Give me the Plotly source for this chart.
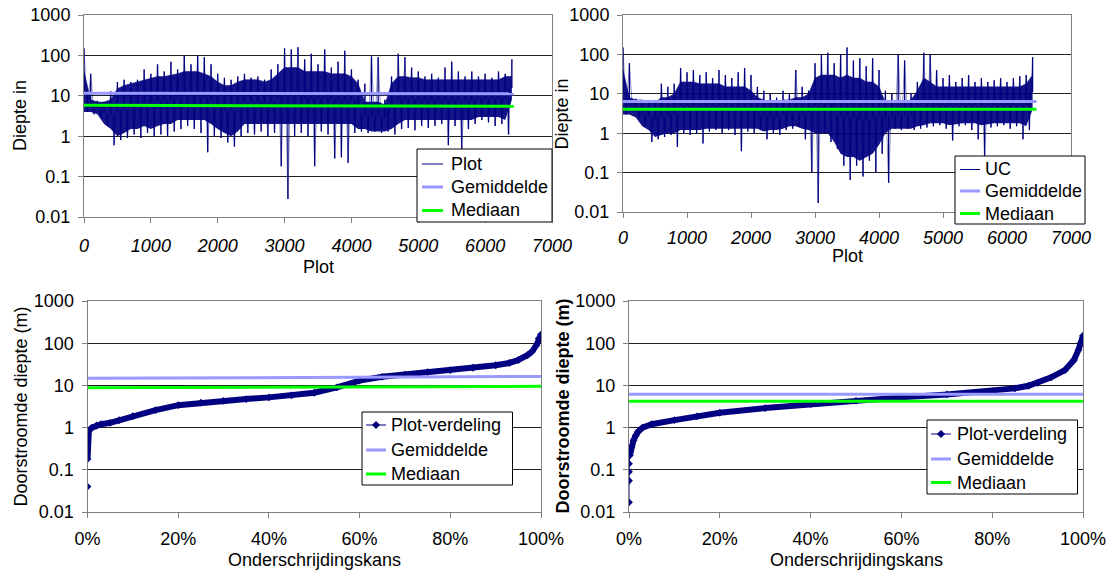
import plotly.graph_objects as go

W, H = 1110, 573
FONT = "Liberation Sans, Arial, sans-serif"
NAVY = "#000080"
MEAN_C = "#9999FF"
MED_C = "#00FF00"
GRID_C = "#202020"
AXIS_C = "#808080"

# ---------------- data ----------------
# top panels: sample number (every 50th plot, alternating upper/lower readings)
series_x = list(range(0, 6401, 50))
plot_depth = [
    150, 4, 35, 3.5, 7.5, 3, 7, 1.8, 13, 0.6,
    22, 0.8, 25, 0.9, 22, 1.1, 25, 0.9, 45, 1.2,
    35, 1.0, 60, 1.1, 40, 1.0, 70, 1.3, 45, 1.5,
    100, 1.8, 60, 1.5, 100, 1.2, 90, 0.4, 60, 1.0,
    35, 0.9, 28, 0.7, 25, 0.55, 30, 1.0, 35, 1.2,
    28, 1.1, 30, 1.3, 25, 1.0, 45, 1.2, 60, 0.18,
    150, 0.028, 140, 1.0, 160, 1.2, 80, 1.0, 110, 0.18,
    60, 1.3, 140, 1.1, 50, 0.28, 70, 0.3, 130, 0.22,
    45, 1.2, 25, 1.3, 20, 1.2, 95, 1.3, 90, 1.2,
    8, 1.3, 30, 1.1, 110, 1.5, 90, 1.6, 50, 1.4,
    40, 1.8, 30, 1.6, 35, 1.8, 28, 2.0, 50, 0.6,
    70, 1.8, 40, 0.45, 30, 1.5, 40, 2.0, 30, 2.5,
    35, 2.2, 28, 1.8, 40, 2.0, 35, 1.1, 80,
]
uc_depth = [
    150, 3, 60, 3.5, 7.5, 2.5, 7, 1.5, 6.5, 0.6,
    6, 0.7, 18, 0.8, 15, 0.9, 18, 0.45, 45, 1.0,
    35, 0.9, 40, 1.0, 30, 0.55, 35, 1.1, 25, 1.2,
    40, 1.0, 30, 1.2, 25, 0.9, 35, 0.35, 45, 1.1,
    30, 1.0, 15, 1.2, 12, 0.7, 10, 1.0, 8, 0.9,
    12, 1.2, 10, 1.3, 40, 1.5, 15, 0.7, 12, 0.1,
    60, 0.017, 100, 1.0, 110, 0.6, 60, 0.4, 100, 0.15,
    150, 0.065, 70, 0.15, 80, 0.08, 50, 0.2, 80, 0.1,
    40, 0.3, 12, 0.055, 10, 1.3, 100, 1.2, 70, 1.3,
    10, 1.2, 20, 1.3, 110, 1.4, 100, 1.5, 40, 1.6,
    25, 1.3, 30, 0.65, 20, 1.5, 25, 1.6, 30, 1.2,
    20, 0.7, 25, 0.25, 20, 1.4, 22, 1.5, 25, 1.6,
    20, 1.3, 25, 1.5, 28, 0.7, 30, 1.2, 85,
]
# dense core of the scatter (typical upper / lower readings per 100 plots)
band_x = list(range(0, 6401, 100))
plot_band_hi = [
    40, 8, 7, 7, 8, 15, 18, 20, 22, 25,
    28, 30, 30, 32, 35, 40, 40, 40, 35, 30,
    22, 18, 18, 22, 25, 25, 25, 22, 25, 35,
    50, 50, 50, 40, 40, 40, 40, 35, 35, 35,
    30, 20, 7, 7, 7, 6, 20, 30, 30, 28,
    28, 25, 25, 25, 25, 25, 25, 25, 25, 25,
    25, 25, 25, 30, 30,
]
plot_band_lo = [
    4, 4, 3.5, 2, 1.5, 1.0, 1.2, 1.5, 1.5, 1.8,
    1.5, 1.8, 2, 2, 2.5, 2.5, 2.5, 2.5, 2.5, 2,
    1.5, 1.2, 1.0, 1.3, 2, 2, 2, 2, 2, 2,
    2, 2, 2, 2, 2, 2, 2, 2, 2, 2,
    2, 1.5, 1.5, 1.3, 1.3, 1.3, 1.5, 2, 2.5, 2.5,
    2.5, 2.5, 2.5, 2.5, 2.5, 2.5, 2.5, 2.5, 2.5, 3,
    3, 3, 3, 2.5, 8,
]
uc_band_hi = [
    40, 8, 7, 7, 6, 6, 8, 8, 10, 20,
    20, 20, 18, 18, 18, 18, 15, 15, 15, 15,
    12, 8, 7, 6, 6, 7, 7, 8, 8, 10,
    25, 30, 30, 30, 25, 30, 25, 25, 20, 20,
    15, 6, 6, 6, 6, 7, 12, 25, 20, 15,
    15, 15, 15, 15, 15, 15, 15, 15, 15, 15,
    15, 15, 15, 18, 30,
]
uc_band_lo = [
    3, 3, 2.5, 1.5, 1.2, 0.8, 0.9, 1.0, 1.0, 1.2,
    1.2, 1.2, 1.2, 1.3, 1.3, 1.3, 1.3, 1.3, 1.3, 1.3,
    1.3, 1.3, 1.1, 1.2, 1.2, 1.3, 1.5, 1.5, 1.3, 1.2,
    1.0, 1.0, 1.0, 0.6, 0.3, 0.25, 0.25, 0.2, 0.25, 0.3,
    0.5, 1.0, 1.3, 1.3, 1.3, 1.3, 1.5, 1.6, 1.8, 1.8,
    1.8, 1.6, 1.7, 1.8, 1.8, 1.8, 1.6, 1.7, 1.8, 1.8,
    1.8, 1.8, 1.8, 1.5, 4,
]
top_left_line_x = [0, 6430]
top_left_mean = [11.5, 11.2]
top_left_median = [5.8, 5.5]
top_right_line_x = [0, 6460]
top_right_mean = [6.4, 6.4]
top_right_median = [4.05, 4.05]

# bottom panels: exceedance distribution (fraction, depth)
plot_dist_p = [0, 0, 0, 0, 0, 0.003, 0.01, 0.02, 0.03, 0.05, 0.07, 0.10, 0.15,
               0.20, 0.25, 0.30, 0.35, 0.40, 0.45, 0.50, 0.55, 0.60, 0.65, 0.70,
               0.75, 0.80, 0.85, 0.90, 0.93, 0.95, 0.97, 0.98, 0.99, 0.995, 1.0]
plot_dist_v = [0.04, 0.18, 0.3, 0.5, 0.7, 0.85, 1.0, 1.12, 1.2, 1.3, 1.5, 1.88, 2.6,
               3.4, 3.9, 4.3, 4.75, 5.2, 5.8, 6.7, 9.0, 13, 16, 18,
               20.7, 23, 26.2, 30, 34, 40, 52, 63, 90, 130, 160]
uc_dist_p = [0, 0, 0, 0, 0.002, 0.005, 0.01, 0.015, 0.02, 0.03, 0.05, 0.10, 0.15,
             0.20, 0.30, 0.40, 0.50, 0.60, 0.70, 0.80, 0.85, 0.88, 0.90, 0.93,
             0.96, 0.98, 0.99, 0.995, 1.0]
uc_dist_v = [0.017, 0.055, 0.09, 0.14, 0.22, 0.35, 0.5, 0.65, 0.8, 1.0, 1.2, 1.5, 1.85,
             2.25, 2.9, 3.6, 4.3, 5.2, 6.1, 7.3, 8.5, 9.8, 11.5, 15.5,
             23, 40, 69, 100, 150]
bottom_line_x = [0, 1.0]
bottom_left_mean = [14.7, 16.3]
bottom_left_median = [8.8, 9.5]
bottom_right_mean = [6.2, 6.2]
bottom_right_median = [4.2, 4.2]

y_tickvals = [0.01, 0.1, 1, 10, 100, 1000]
y_ticktext = ["0.01", "0.1", "1", "10", "100", "1000"]
x_top_ticks = [0, 1000, 2000, 3000, 4000, 5000, 6000, 7000]
x_bot_ticks = [0, 0.2, 0.4, 0.6, 0.8, 1.0]

legend_top_left = ["Plot", "Gemiddelde", "Mediaan"]
legend_top_right = ["UC", "Gemiddelde", "Mediaan"]
legend_bottom = ["Plot-verdeling", "Gemiddelde", "Mediaan"]

# ---------------- figure ----------------
fig = go.Figure()

def spikes(xs, vals, b_lo, b_hi):
    # each reading drawn as a vertical stroke from the dense core out to its value
    sx, sy = [], []
    for x, v in zip(xs, vals):
        j = min(int(round(x / 100.0)), len(b_lo) - 1)
        core = (b_lo[j] * b_hi[j]) ** 0.5
        sx += [x, x, None]
        sy += [core, v, None]
    return sx, sy

def add_top(xa, ya, vals, b_lo, b_hi, lx, mean, med):
    fig.add_trace(go.Scatter(x=band_x, y=b_lo, mode="lines", line=dict(color=NAVY, width=0),
                             xaxis=xa, yaxis=ya, hoverinfo="skip"))
    fig.add_trace(go.Scatter(x=band_x, y=b_hi, mode="lines", line=dict(color=NAVY, width=0.5),
                             fill="tonexty", fillcolor="rgba(0,0,128,0.92)",
                             xaxis=xa, yaxis=ya, hoverinfo="skip"))
    fig.add_trace(go.Scatter(x=series_x, y=vals, mode="lines",
                             line=dict(color=NAVY, width=0.6), opacity=0.7,
                             xaxis=xa, yaxis=ya))
    sx, sy = spikes(series_x, vals, b_lo, b_hi)
    fig.add_trace(go.Scatter(x=sx, y=sy, mode="lines", connectgaps=False,
                             line=dict(color=NAVY, width=1.3), xaxis=xa, yaxis=ya,
                             hoverinfo="skip"))
    fig.add_trace(go.Scatter(x=lx, y=mean, mode="lines",
                             line=dict(color=MEAN_C, width=3), xaxis=xa, yaxis=ya))
    fig.add_trace(go.Scatter(x=lx, y=med, mode="lines",
                             line=dict(color=MED_C, width=3), xaxis=xa, yaxis=ya))

def add_bottom(xa, ya, p, v, mean, med):
    thick_p = [pp for pp, vv in zip(p, v) if vv > 0.15]
    thick_v = [vv for vv in v if vv > 0.15]
    fig.add_trace(go.Scatter(x=thick_p, y=thick_v, mode="lines",
                             line=dict(color=NAVY, width=6), xaxis=xa, yaxis=ya,
                             hoverinfo="skip"))
    fig.add_trace(go.Scatter(x=p, y=v, mode="lines+markers",
                             line=dict(color=NAVY, width=1),
                             marker=dict(symbol="diamond", size=6, color=NAVY),
                             xaxis=xa, yaxis=ya))
    fig.add_trace(go.Scatter(x=bottom_line_x, y=mean, mode="lines",
                             line=dict(color=MEAN_C, width=3), xaxis=xa, yaxis=ya))
    fig.add_trace(go.Scatter(x=bottom_line_x, y=med, mode="lines",
                             line=dict(color=MED_C, width=3), xaxis=xa, yaxis=ya))

add_top("x", "y", plot_depth, plot_band_lo, plot_band_hi, top_left_line_x, top_left_mean, top_left_median)
add_top("x2", "y2", uc_depth, uc_band_lo, uc_band_hi, top_right_line_x, top_right_mean, top_right_median)
add_bottom("x3", "y3", plot_dist_p, plot_dist_v, bottom_left_mean, bottom_left_median)
add_bottom("x4", "y4", uc_dist_p, uc_dist_v, bottom_right_mean, bottom_right_median)

def fx(p):
    return p / W

def fy(p):
    return 1 - p / H

tickfont = dict(family=FONT, size=18, color="black")
itfont = dict(family=FONT, size=18, color="black", style="italic")

def yaxis(dom, anchor):
    return dict(type="log", range=[-2, 3], domain=dom, anchor=anchor,
                tickvals=y_tickvals, ticktext=y_ticktext, tickfont=tickfont,
                showgrid=True, gridcolor=GRID_C, gridwidth=1,
                showline=True, linecolor=AXIS_C, linewidth=1, mirror=True,
                ticks="outside", ticklen=5, tickcolor=AXIS_C, zeroline=False,
                ticklabelstandoff=4, automargin=False)

def xaxis(dom, anchor, rng, tv, font, fmt=None, standoff=8):
    d = dict(range=rng, domain=dom, anchor=anchor, tickvals=tv, tickfont=font,
             showgrid=False, showline=True, linecolor=AXIS_C, linewidth=1, mirror=True,
             ticks="outside", ticklen=5, tickcolor=AXIS_C, zeroline=False,
             ticklabelstandoff=standoff, automargin=False)
    if fmt:
        d["tickformat"] = fmt
    return d

TL = (84, 552, 15, 217)
TR = (623, 1071, 15, 212)
BL = (87.5, 541, 301, 512)
BR = (629, 1083, 301, 512)

def dom(b):
    return [fx(b[0]), fx(b[1])], [fy(b[3]), fy(b[2])]

tlx, tly = dom(TL)
trx, try_ = dom(TR)
blx, bly = dom(BL)
brx, bry = dom(BR)

fig.update_layout(
    width=W, height=H, margin=dict(l=0, r=0, t=0, b=0, pad=0, autoexpand=False),
    paper_bgcolor="white", plot_bgcolor="white",
    font=dict(family=FONT, size=18, color="black"),
    showlegend=False,
    xaxis=xaxis(tlx, "y", [0, 7000], x_top_ticks, itfont, standoff=7),
    yaxis=yaxis(tly, "x"),
    xaxis2=xaxis(trx, "y2", [0, 7000], x_top_ticks, itfont, standoff=4),
    yaxis2=yaxis(try_, "x2"),
    xaxis3=xaxis(blx, "y3", [0, 1], x_bot_ticks, tickfont, fmt=".0%", standoff=5),
    yaxis3=yaxis(bly, "x3"),
    xaxis4=xaxis(brx, "y4", [0, 1], x_bot_ticks, tickfont, fmt=".0%", standoff=5),
    yaxis4=yaxis(bry, "x4"),
)

# ---- legend boxes (Excel style) ----
shapes = []
def legend_box(box, rows, sample_x, text_x, labels, first_marker):
    l, r, t, b = box
    shapes.append(dict(type="rect", xref="paper", yref="paper", layer="above",
                       x0=fx(l), x1=fx(r), y0=fy(b), y1=fy(t),
                       fillcolor="white", line=dict(color="black", width=1)))
    styles = [(NAVY, 1), (MEAN_C, 3), (MED_C, 3)]
    for i, (lab, ry, (col, w)) in enumerate(zip(labels, rows, styles)):
        shapes.append(dict(type="line", xref="paper", yref="paper", layer="above",
                           x0=fx(sample_x[0]), x1=fx(sample_x[1]), y0=fy(ry), y1=fy(ry),
                           line=dict(color=col, width=w)))
        if i == 0 and first_marker:
            cx = (sample_x[0] + sample_x[1]) / 2
            d = 3.5
            path = "M {} {} L {} {} L {} {} L {} {} Z".format(
                fx(cx), fy(ry - d), fx(cx + d), fy(ry), fx(cx), fy(ry + d), fx(cx - d), fy(ry))
            shapes.append(dict(type="path", xref="paper", yref="paper", layer="above",
                               path=path, fillcolor=NAVY, line=dict(color=NAVY, width=1)))
        fig.add_annotation(text=lab, x=fx(text_x), y=fy(ry), xref="paper", yref="paper",
                           xanchor="left", yanchor="middle", showarrow=False,
                           font=dict(family=FONT, size=18, color="black"))

legend_box((417, 552, 149, 222), (164, 187, 210.5), (422, 443), 449, legend_top_left, False)
legend_box((955, 1085, 156, 224), (169.5, 191, 213.5), (960, 980), 983, legend_top_right, False)
legend_box((362, 512.5, 412, 485), (425, 450, 474), (366, 386), 389, legend_bottom, True)
legend_box((927, 1077.5, 420, 494), (434, 459, 482.5), (931, 951), 955, legend_bottom, True)
fig.update_layout(shapes=shapes)

titles = [
    ("Plot", 318, 267, 0),
    ("Plot", 847, 256, 0),
    ("Onderschrijdingskans", 314, 560, 0),
    ("Onderschrijdingskans", 856, 560, 0),
    ("Diepte in", 20, 116, -90),
    ("Diepte in", 561, 113.5, -90),
    ("Doorstroomde diepte (m)", 20, 406.5, -90),
    ("<b>Doorstroomde diepte (m)</b>", 562, 406.5, -90),
]
for text, x, y, ang in titles:
    fig.add_annotation(text=text, x=fx(x), y=fy(y), xref="paper", yref="paper",
                       xanchor="center", yanchor="middle", showarrow=False,
                       textangle=ang, font=dict(family=FONT, size=18, color="black"))

fig.write_html("out.html")
